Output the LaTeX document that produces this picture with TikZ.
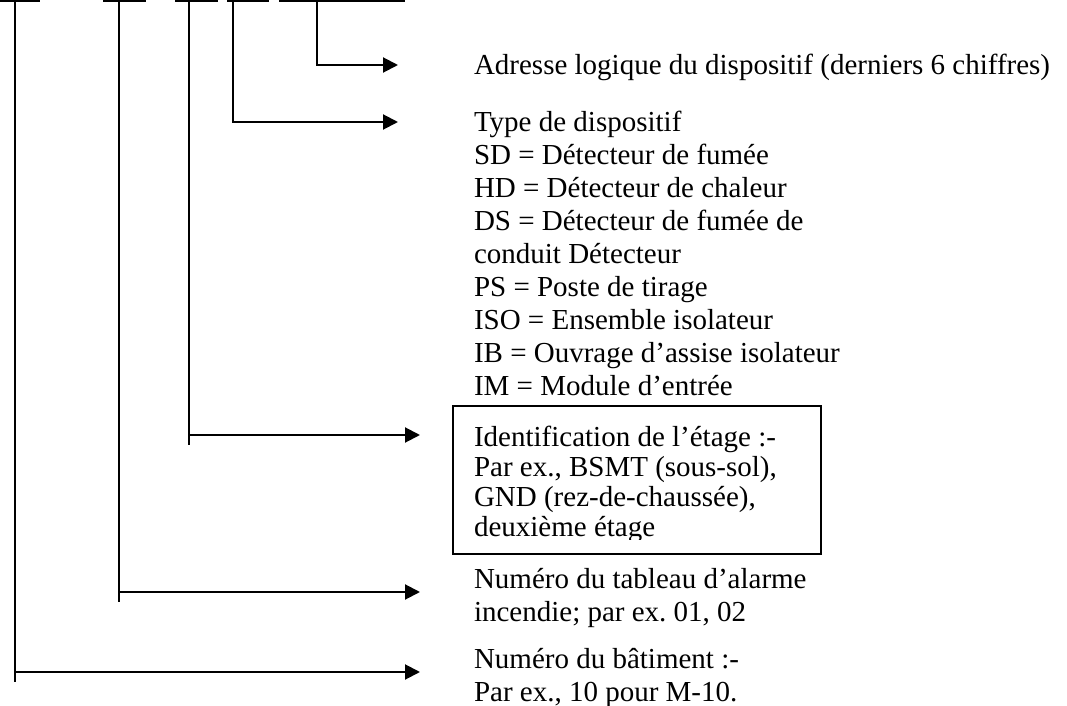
\documentclass[tikz,border=0pt]{standalone}
\usepackage{fontspec}
\setmainfont{Liberation Serif}
\usepackage{tikz}
\usetikzlibrary{positioning}
\usetikzlibrary{arrows.meta}
\frenchspacing

\begin{document}
\begin{tikzpicture}[x=0.5pt,y=-0.5pt,line width=1pt]
          \useasboundingbox (0,0) rectangle (1067,706);
          \begin{scope}[every node/.style={anchor=north west,align=left,inner sep=0pt,font=\fontsize{14.5}{16.5}\selectfont}]
            \node (addr) at (473,53) {Adresse logique du dispositif (derniers 6 chiffres)};
            \node (type) at (473,110) {Type de dispositif\\SD = Détecteur de fumée\\HD = Détecteur de chaleur\\DS = Détecteur de fumée de\\conduit Détecteur\\PS = Poste de tirage\\ISO = Ensemble isolateur\\IB = Ouvrage d’assise isolateur\\IM = Module d’entrée};
            \node[draw,minimum width=184pt,minimum height=74pt] (floorbox) at (452,405) {};
            \coordinate (cliplow) at (820,539);
            \begin{scope}
              \clip (floorbox.north west) rectangle (cliplow);
              \node[font=\fontsize{14.5}{15}\selectfont] (floor) at (473,425) {Identification de l’étage :-\\Par ex., BSMT (sous-sol),\\GND (rez-de-chaussée),\\deuxième étage};
            \end{scope}
            \node (panel) at (473,567) {Numéro du tableau d’alarme\\incendie; par ex. 01, 02};
            \node (bldg) at (473,647) {Numéro du bâtiment :-\\Par ex., 10 pour M-10.};
          \end{scope}
          % bars over the code groups
          \coordinate (g1a) at (0,1);   \coordinate (g1b) at (40,1);
          \coordinate (g2a) at (103,1); \coordinate (g2b) at (146,1);
          \coordinate (g3a) at (175,1); \coordinate (g3b) at (218,1);
          \coordinate (g4a) at (227,1); \coordinate (g4b) at (269,1);
          \coordinate (g5a) at (279,1); \coordinate (g5b) at (405,1);
          \draw (g1a) -- (g1b);
          \draw (g2a) -- (g2b);
          \draw (g3a) -- (g3b);
          \draw (g4a) -- (g4b);
          \draw (g5a) -- (g5b);
          % drop lines
          \coordinate (v1) at (15,1);  \coordinate (v1e) at (15,682);
          \coordinate (v2) at (119,1); \coordinate (v2e) at (119,602);
          \coordinate (v3) at (189,1); \coordinate (v3e) at (189,445);
          \coordinate (v4) at (233,1);
          \coordinate (v5) at (317,1);
          \draw (v1) -- (v1e);
          \draw (v2) -- (v2e);
          \draw (v3) -- (v3e);
          % arrow ends
          \coordinate (t5) at (398,65);
          \coordinate (t4) at (398,122);
          \coordinate (t3) at (420,435);
          \coordinate (t2) at (420,592);
          \coordinate (t1) at (420,672);
          \begin{scope}[every path/.style={-{Triangle[length=7.5pt,width=7.5pt]}}]
            \draw (v5) |- (t5);
            \draw (v4) |- (t4);
            \draw (v3 |- t3) -- (t3);
            \draw (v2 |- t2) -- (t2);
            \draw (v1 |- t1) -- (t1);
          \end{scope}
        \end{tikzpicture}
\end{document}
